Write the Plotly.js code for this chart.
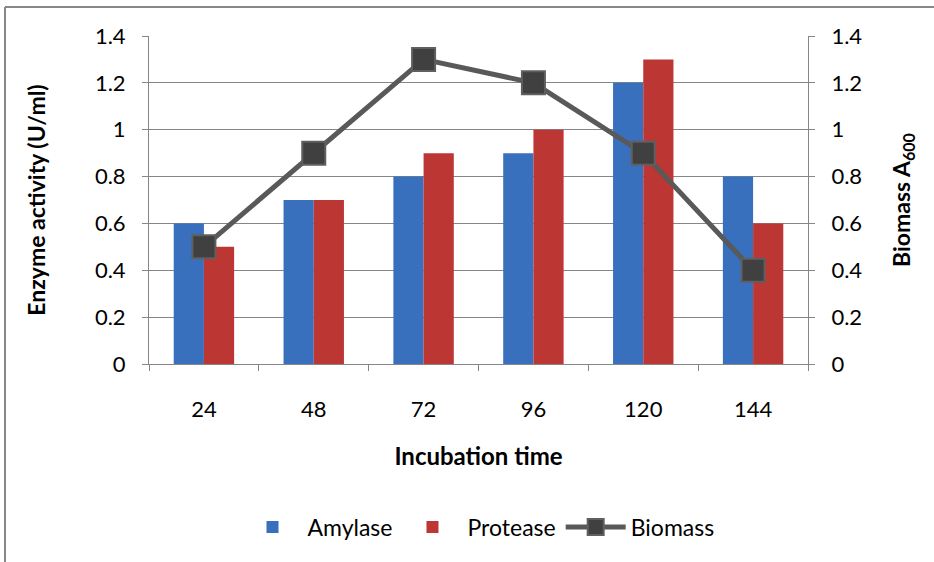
<!DOCTYPE html>
<html>
<head>
<meta charset="utf-8">
<script src="https://cdn.plot.ly/plotly-3.0.1.min.js"></script>
<style>html,body{margin:0;padding:0;background:#fff;}#chart{width:934px;height:562px;}</style>
</head>
<body>
<div id="chart"></div>
<script>
const incubationTimes = ['24', '48', '72', '96', '120', '144'];
const amylase = [0.6, 0.7, 0.8, 0.9, 1.2, 0.8];
const protease = [0.5, 0.7, 0.9, 1.0, 1.3, 0.6];
const biomass = [0.5, 0.9, 1.3, 1.2, 0.9, 0.4];
const yTicks = [0, 0.2, 0.4, 0.6, 0.8, 1, 1.2, 1.4];
const yTickText = ['0', '0.2', '0.4', '0.6', '0.8', '1', '1.2', '1.4'];

const FONT = 'Lato, "Open Sans", sans-serif';
const GRID = '#868686';

const traces = [
  {type: 'bar', name: 'Amylase', x: incubationTimes, y: amylase,
   marker: {color: '#3870bd'}},
  {type: 'bar', name: 'Protease', x: incubationTimes, y: protease,
   marker: {color: '#bc3634'}},
  {type: 'scatter', mode: 'lines+markers', name: 'Biomass', x: incubationTimes, y: biomass,
   yaxis: 'y2',
   line: {color: '#595959', width: 5},
   marker: {symbol: 'square', size: 23, color: '#404040', line: {color: '#5f5f5f', width: 2}}}
];

const yCommon = {
  range: [0, 1.4], tickvals: yTicks, ticktext: yTickText,
  showline: true, linecolor: GRID, linewidth: 1,
  ticks: 'outside', ticklen: 6, tickcolor: GRID,
  tickfont: {family: FONT, size: 22, color: '#000'},
  ticklabelstandoff: 12,
  zeroline: false, fixedrange: true
};

const layout = {
  width: 934, height: 562,
  margin: {l: 149, r: 126, t: 36, b: 198},
  paper_bgcolor: '#fff', plot_bgcolor: '#fff',
  font: {family: FONT, color: '#000'},
  barmode: 'group', bargap: 0.45, bargroupgap: 0,
  showlegend: true,
  legend: {orientation: 'h', x: 0.5, xanchor: 'center', y: -0.497, yanchor: 'middle',
           font: {family: FONT, size: 23, color: '#000'}, traceorder: 'normal', itemwidth: 60},
  xaxis: {
    type: 'category', showline: true, linecolor: GRID, linewidth: 1,
    ticks: 'outside', tickson: 'boundaries', ticklen: 6, tickcolor: GRID,
    tickfont: {family: FONT, size: 22, color: '#000'},
    ticklabelstandoff: 26,
    showgrid: false,
    title: {text: '<b>Incubation time</b>', font: {family: FONT, size: 24, color: '#000'}, standoff: 26}
  },
  yaxis: Object.assign({}, yCommon, {
    showgrid: true, gridcolor: GRID, gridwidth: 1,
    title: {text: '<b>Enzyme activity (U/ml)</b>', font: {family: FONT, size: 23, color: '#000'}, standoff: 42}
  }),
  yaxis2: Object.assign({}, yCommon, {
    overlaying: 'y', side: 'right', showgrid: false,
    title: {text: '<b>Biomass A<sub>600</sub></b>', font: {family: FONT, size: 23, color: '#000'}, standoff: 32}
  }),
  shapes: [
    {type: 'line', xref: 'paper', yref: 'paper', x0: -0.2185, x1: -0.2185, y0: 1.0884, y1: -0.62,
     line: {color: '#888888', width: 2}},
    {type: 'line', xref: 'paper', yref: 'paper', x0: -0.2185, x1: 1.2, y0: 1.0884, y1: 1.0884,
     line: {color: '#888888', width: 2}}
  ]
};

Plotly.newPlot('chart', traces, layout, {displayModeBar: false, staticPlot: true});
</script>
</body>
</html>
